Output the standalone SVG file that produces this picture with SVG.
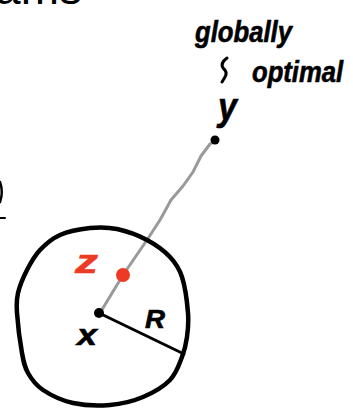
<svg xmlns="http://www.w3.org/2000/svg" width="353" height="408" viewBox="0 0 353 408">
<style>
.hand{font-family:"Liberation Sans","DejaVu Sans",sans-serif;font-weight:bold;font-style:italic;fill:#000;stroke:#000;stroke-width:0.6}
.ink{fill:none;stroke:#000;stroke-linecap:round;stroke-linejoin:round}
.title{font-family:"Liberation Sans",Arial,sans-serif;font-size:46px;fill:#000}
</style>
<rect width="353" height="408" fill="#fff"/>
<text class="title" x="82" y="4" text-anchor="end">ams</text>
<path class="ink" d="M0,182 Q3.5,192 0,202" stroke-width="2.5"/>
<path class="ink" d="M0,218 L5,218" stroke-width="2"/>
<g id="connectors">
<polyline fill="none" stroke="#9a9a9a" stroke-width="3" stroke-linecap="round" stroke-linejoin="round" points="215,141 210,144 201,156 193,172 183,186 171,200 160,220 147,240 123,275 100,313"/>
<line x1="99" y1="313" x2="184" y2="354" stroke="#000" stroke-width="3" stroke-linecap="round"/>
</g>
<g id="ball">
<path class="ink" stroke-width="4.5" d="M90,228 C99.5,227 107.5,227 117,229 C126.5,231 138.2,235.3 147,240 C155.8,244.7 164.2,250.8 170,257 C175.8,263.2 179,267.7 182,277 C185,286.3 187.2,303 188,313 C188.8,323 188,329.7 187,337 C186,344.3 184.8,349.8 182,357 C179.2,364.2 176.5,373.3 170,380 C163.5,386.7 153,392.8 143,397 C133,401.2 121.7,404 110,405 C98.3,406 84.2,405.5 73,403 C61.8,400.5 50.5,395 43,390 C35.5,385 31.5,379.2 28,373 C24.5,366.8 23.8,363 22,353 C20.2,343 17.7,323 17,313 C16.3,303 16.3,300.2 18,293 C19.7,285.8 23.3,277.2 27,270 C30.7,262.8 34.5,255.8 40,250 C45.5,244.2 51.7,238.7 60,235 C68.3,231.3 80.5,229 90,228 Z"/>
<text class="hand" x="145" y="328" font-size="25" textLength="20" lengthAdjust="spacingAndGlyphs">R</text>
</g>
<g id="point-x">
<circle cx="99" cy="313" r="5" fill="#000"/>
<text class="hand" x="77" y="345" font-size="30" textLength="20" lengthAdjust="spacingAndGlyphs">x</text>
</g>
<g id="point-z">
<circle cx="123" cy="275" r="7" fill="#ee3a24"/>
<text class="hand" x="75" y="273" font-size="34" textLength="23" lengthAdjust="spacingAndGlyphs" style="fill:#ee3a24;stroke:#ee3a24">z</text>
</g>
<g id="point-y">
<circle cx="215" cy="140" r="4.5" fill="#000"/>
<text class="hand" x="218" y="120" font-size="38" textLength="19" lengthAdjust="spacingAndGlyphs">y</text>
<text class="hand" x="195" y="42" font-size="29" textLength="97" lengthAdjust="spacingAndGlyphs">globally</text>
<path class="ink" stroke-width="3" d="M227,58 Q220,63 223,68 Q228,72 225,77 L222,82"/>
<text class="hand" x="252" y="82" font-size="29" textLength="91" lengthAdjust="spacingAndGlyphs">optimal</text>
</g>
</svg>
